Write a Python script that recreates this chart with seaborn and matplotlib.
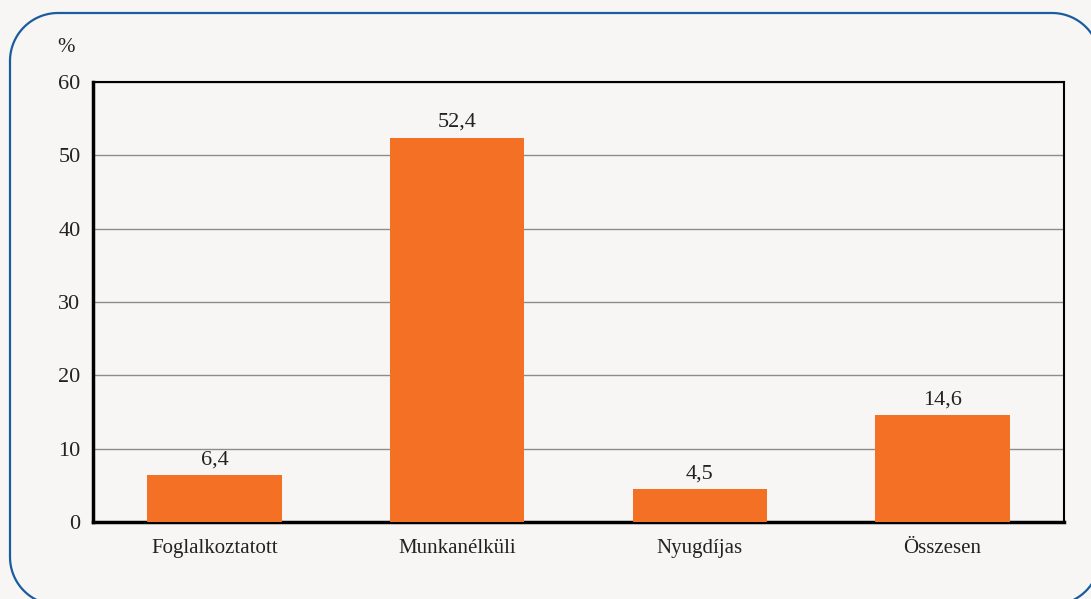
import numpy as np
import pandas as pd
import seaborn as sns
import matplotlib.pyplot as plt
from matplotlib.path import Path
from matplotlib.patches import PathPatch

# data
categories = ["Foglalkoztatott", "Munkanélküli", "Nyugdíjas", "Összesen"]
values = [6.4, 52.4, 4.5, 14.6]
yticks = [0, 10, 20, 30, 40, 50, 60]

df = pd.DataFrame({"cat": categories, "val": values})

sns.set_style("white")
plt.rcParams['font.family'] = ['Liberation Serif', 'DejaVu Serif']

W, H = 1091, 599
bg = "#f7f6f4"
fig = plt.figure(figsize=(W/100, H/100), dpi=100, facecolor=bg)
ax = fig.add_axes([93/W, 1-522/H, (1064-93)/W, (522-82)/H])
ax.set_facecolor(bg)

sns.barplot(data=df, x="cat", y="val", color="#f37024", width=0.555,
            saturation=1, ax=ax, zorder=3, linewidth=0)

for i, v in enumerate(values):
    ax.text(i, v + 0.8, f"{v:.1f}".replace(".", ","), ha="center", va="bottom",
            fontsize=16, color="#222222")

ax.set_ylim(0, 60)
ax.set_xlim(-0.5, len(categories) - 0.5)
ax.set_yticks(yticks)
ax.set_yticklabels([str(t) for t in yticks], fontsize=16, color="#222222")
ax.yaxis.grid(True, color="#8c8c8c", linewidth=1, zorder=0)
ax.set_axisbelow(True)

# category ticks sit between bars
ax.set_xticks(range(len(categories)))
ax.set_xticklabels(categories, fontsize=15, color="#222222")
ax.tick_params(axis="x", which="major", length=0, pad=12)
ax.set_xticks(np.arange(-0.5, len(categories)), minor=True)
ax.tick_params(axis="x", which="minor", direction="out", length=5, width=2, color="black")
ax.tick_params(axis="y", direction="out", length=5, width=2, color="black", pad=4)
ax.set_xlabel("")
ax.set_ylabel("")

for s in ax.spines.values():
    s.set_color("black")
    s.set_linewidth(1.5)
ax.spines["left"].set_linewidth(2.5)
ax.spines["bottom"].set_linewidth(2.5)

fig.text(66/W, 1-47/H, "%", fontsize=15, ha="center", va="center", color="#222222")

# rounded frame (pixel units, y from top), runs just past right and bottom edges
x0, x1, y0, y1, r = 10, 1100, 13, 605, 48
pts = []
for cx, cy, a0 in [(x1 - r, y0 + r, 0), (x0 + r, y0 + r, 90),
                   (x0 + r, y1 - r, 180), (x1 - r, y1 - r, 270)]:
    t = np.radians(np.linspace(a0, a0 + 90, 30))
    pts += [(cx + r*np.cos(tt), cy - r*np.sin(tt)) for tt in t]
pts.append(pts[0])
pts = np.array(pts)
frame = PathPatch(Path(np.column_stack([pts[:, 0]/W, 1 - pts[:, 1]/H])),
                  transform=fig.transFigure, fill=False,
                  edgecolor="#1a5c9e", linewidth=1.6)
fig.patches.append(frame)

fig.savefig("out.png", dpi=100, facecolor=bg)
